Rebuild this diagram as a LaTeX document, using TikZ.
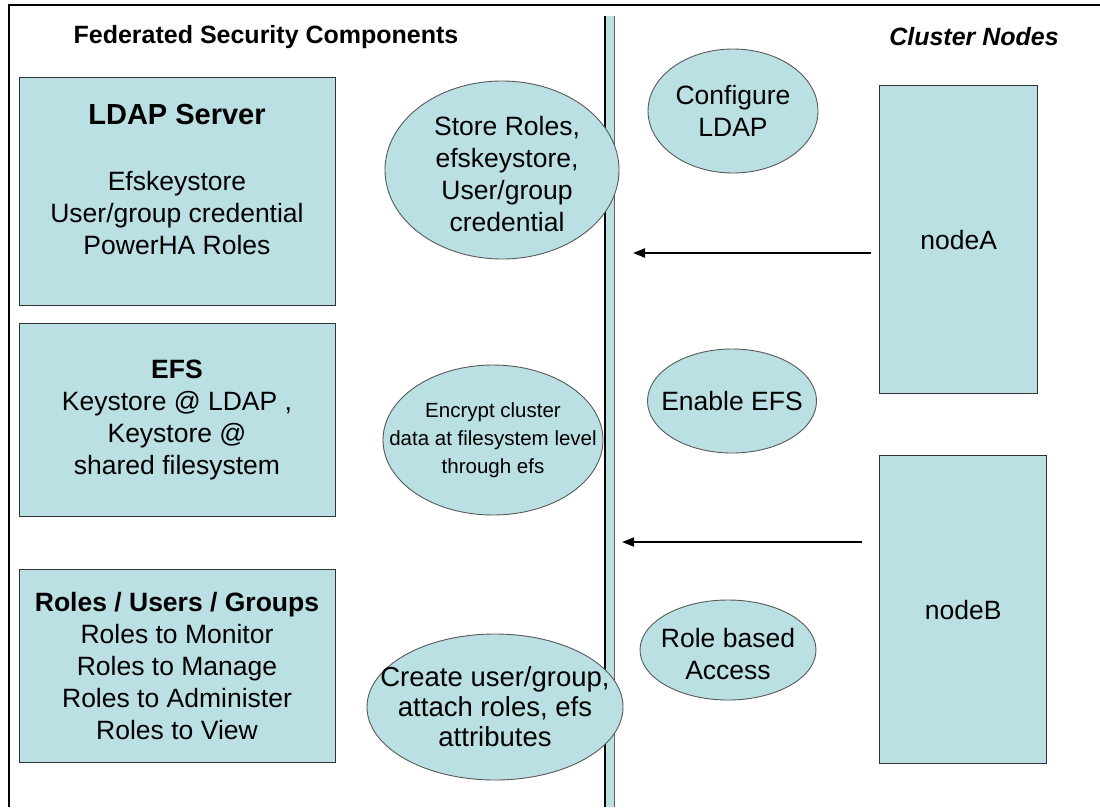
\documentclass[tikz,border=0pt]{standalone}
\usepackage{fontspec}
\setmainfont{Liberation Sans}
\usetikzlibrary{arrows.meta,positioning,shapes.geometric}
\definecolor{paleblue}{RGB}{187,224,227}

\begin{document}
\begin{tikzpicture}[x=1pt, y=-1pt,
  every node/.style={font=\fontsize{26.5}{32}\selectfont, align=center, inner sep=0pt},
  head/.style={font=\fontsize{25}{30}\selectfont\bfseries},
  box/.style={draw=black!80, line width=1.4pt, fill=paleblue, rectangle, anchor=north west},
  blob/.style={draw=black!65, line width=0.9pt, fill=paleblue, ellipse},
  small/.style={font=\fontsize{20.5}{28}\selectfont},
  flow/.style={line width=1.8pt, -{Triangle[length=12pt,width=9pt]}}
]
  \useasboundingbox (0,0) rectangle (1100,807);

  % Rahmen
  \draw[line width=1.5pt] (9,807) -- (9,5) -- (1100,5);

  % Trennbalken
  \fill[paleblue] (605,16) rectangle (614,807);
  \draw[line width=1.8pt] (605,16) -- (605,807);
  \draw[black!60, line width=0.8pt] (614,16) -- (614,807);

  % Ueberschriften
  \node[head] (hleft) at (266,37) {Federated Security Components};
  \node[head, font=\fontsize{25}{30}\selectfont\bfseries\itshape] (hright) at (974,37) {Cluster Nodes};

  % Komponenten
  \node[box, minimum width=316, minimum height=228] (ldap) at (19,77) {};
  \node[box, minimum width=316, minimum height=193] (efs) at (19,323) {};
  \node[box, minimum width=316, minimum height=193] (roles) at (19,569) {};

  \node[font=\fontsize{29}{34}\selectfont\bfseries] (ldaptitle) at (177,115) {LDAP Server};
  \node (ldaptext) at (177,213) {Efskeystore\\User/group credential\\PowerHA Roles};
  \node (efstext) at (177,420) {\textbf{EFS}\\Keystore @ LDAP ,\\Keystore @\\shared filesystem};
  \node (rolestext) at (177,666) {\textbf{Roles / Users / Groups}\\Roles to Monitor\\Roles to Manage\\Roles to Administer\\Roles to View};

  % Knoten
  \node[box, minimum width=158, minimum height=308] (nodeA) at (879,85) {};
  \node at (nodeA) {nodeA};
  \node[box, minimum width=167, minimum height=308] (nodeB) at (879,455) {};
  \node at (nodeB) {nodeB};

  % Aufgaben
  \node[blob, minimum width=234, minimum height=178] (store) at (502,170) {};
  \node at ([xshift=5pt,yshift=-4pt]store) {Store Roles,\\efskeystore,\\User/group\\credential};
  \node[blob, minimum width=170, minimum height=124] (config) at (733,111) {};
  \node at (config) {Configure\\LDAP};
  \node[blob, minimum width=220, minimum height=150] (encrypt) at (493,440) {};
  \node[small] at (encrypt) {Encrypt cluster\\data at filesystem level\\through efs};
  \node[blob, minimum width=169, minimum height=104] (enable) at (732,401) {};
  \node at (enable) {Enable EFS};
  \node[blob, minimum width=256, minimum height=146] (create) at (495,707) {};
  \node[font=\fontsize{27.5}{30}\selectfont] at (create) {Create user/group,\\attach roles, efs\\attributes};
  \node[blob, minimum width=176, minimum height=100] (access) at (728,650) {};
  \node at ([yshift=-4pt]access) {Role based\\Access};

  % Pfeile
  \coordinate (tipA) at (633,253);
  \coordinate (tipB) at (622,542);
  \draw[flow, shorten <=8pt] (nodeA.west |- tipA) -- (tipA);
  \draw[flow, shorten <=17pt] (nodeB.west |- tipB) -- (tipB);
\end{tikzpicture}
\end{document}
